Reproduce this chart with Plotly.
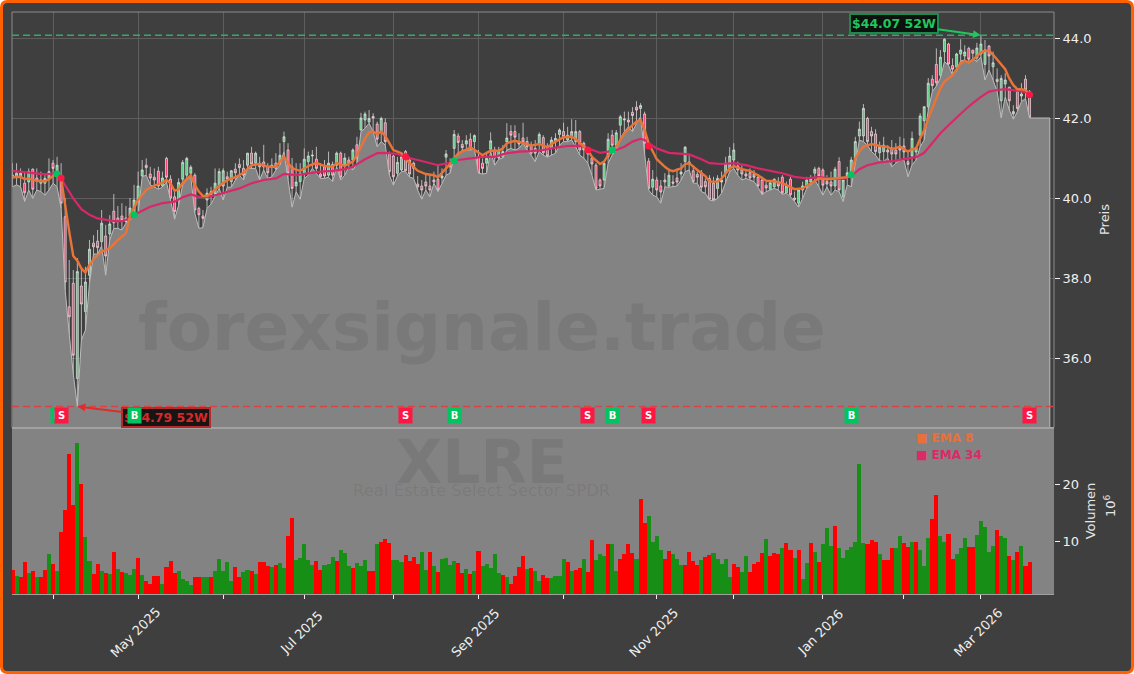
import pandas as pd
import plotly.graph_objects as go

W, H = 1134, 674
HOLIDAYS = ["2025-04-18","2025-05-26","2025-06-19","2025-07-04","2025-09-01","2025-11-27","2025-12-25","2026-01-01","2026-01-19","2026-02-16"]

opens = [
40.5,40.53,40.52,40.37,40.4,40.72,40.5,40.37,40.37,40.5,
40.87,40.62,40.57,39.53,37.28,37.87,35.49,37.8,37.16,38.07,
38.87,38.92,38.91,39.05,39.1,39.67,39.5,39.55,39.41,39.55,
39.6,39.9,40.55,40.82,40.6,40.52,40.67,40.3,40.99,40.47,
40.03,39.95,40.47,40.57,40.62,40.57,39.74,39.55,39.95,40.08,
40.1,40.3,40.3,40.53,40.41,40.72,40.84,40.74,40.82,41.12,
40.87,40.87,40.9,40.78,40.78,40.87,40.87,41.41,41.2,40.78,
40.3,40.41,40.6,40.91,41.05,40.97,40.6,40.78,40.57,40.84,
40.82,41.12,40.82,40.95,40.95,41.33,41.7,41.95,41.9,42.04,
41.85,41.66,41.88,41.1,41.05,40.62,40.7,41.16,40.95,40.87,
40.35,40.3,40.4,40.3,40.45,40.47,40.5,41.02,40.87,41.24,
41.55,41.34,41.35,41.47,41.41,41.03,40.87,40.87,41.22,41.2,
41.0,41.03,41.4,41.66,41.66,41.4,41.5,41.41,41.32,41.24,
41.37,41.51,41.28,41.24,41.41,41.59,41.66,41.45,41.53,41.41,
41.66,41.37,41.2,41.0,40.82,40.45,40.45,41.03,41.57,41.32,
41.82,41.95,41.95,42.14,42.27,42.24,42.1,40.92,40.27,40.45,
40.3,40.45,40.3,40.4,40.5,40.6,40.91,40.85,40.68,40.59,
40.63,40.41,40.49,40.37,40.24,40.4,40.63,40.74,40.95,40.8,
40.7,40.6,40.63,40.6,40.52,40.45,40.32,40.22,40.28,40.4,
40.52,40.13,40.47,40.0,39.87,40.2,40.28,40.4,40.62,40.74,
40.7,40.42,40.4,40.3,40.91,40.03,40.53,40.62,40.9,41.55,
41.55,41.99,41.66,41.6,41.13,41.16,41.2,41.25,41.2,41.3,
41.3,40.91,41.05,41.15,41.57,41.93,42.28,42.97,43.34,43.07,
43.66,43.85,43.31,43.27,43.6,43.55,43.74,43.7,43.5,43.6,
43.34,43.8,43.28,42.97,42.43,42.85,42.77,42.1,42.66,42.55,
42.97,42.66]

closes = [
40.57,40.62,40.62,40.13,40.66,40.22,40.42,40.45,40.49,40.66,
40.74,40.82,39.87,37.9,37.03,36.07,38.16,37.35,37.9,38.72,
38.78,38.76,39.37,38.55,39.35,39.38,39.41,39.45,39.5,39.75,
39.95,40.3,40.7,40.76,40.5,40.45,40.3,40.5,40.52,40.0,
39.66,40.39,40.89,40.99,40.77,39.7,39.58,39.49,40.12,40.16,
40.37,40.66,40.68,40.47,40.68,40.63,40.76,40.57,41.12,40.85,
41.12,40.78,40.78,40.63,40.82,40.74,41.07,41.53,40.62,40.24,
40.4,40.62,40.97,41.05,41.07,40.74,40.53,40.55,40.87,40.57,
41.12,40.52,41.0,40.87,41.2,41.0,42.0,42.1,41.99,42.0,
41.47,41.99,41.41,40.66,40.53,40.89,41.03,40.68,40.6,40.74,
40.28,40.2,40.3,40.2,40.4,40.2,40.55,41.1,40.78,41.59,
41.39,41.26,41.43,41.24,41.56,40.62,40.74,40.99,41.43,41.0,
41.2,41.16,41.5,41.57,41.52,41.35,41.4,41.28,41.12,41.12,
41.59,41.13,41.05,41.45,41.49,41.7,41.53,41.57,41.66,41.66,
41.2,41.2,41.1,40.85,40.24,40.3,40.87,41.47,41.32,41.63,
42.03,41.97,41.9,42.06,42.2,42.31,41.37,40.24,40.47,40.2,
40.15,40.4,40.57,40.37,40.4,40.65,41.27,40.9,40.41,40.52,
40.27,40.28,39.97,39.95,40.49,40.45,40.87,41.05,41.2,40.7,
40.6,40.55,40.5,40.52,40.3,40.12,40.25,40.38,40.47,40.3,
40.13,40.3,40.08,39.96,40.2,40.3,40.45,40.5,40.72,40.55,
40.32,40.35,40.3,40.72,40.2,40.45,40.63,40.95,41.41,41.72,
42.24,41.41,41.55,41.16,41.27,41.32,41.15,41.1,41.1,41.2,
41.15,40.84,41.49,41.25,42.05,42.28,42.87,42.81,42.88,43.52,
43.97,43.35,43.22,43.6,43.7,43.65,43.47,43.62,43.75,43.85,
43.7,43.55,43.38,42.91,42.99,42.95,42.43,42.16,42.24,42.6,
42.7,42.02]

highs = [
40.87,40.87,40.74,40.66,40.74,40.74,40.74,40.66,40.62,40.99,
40.95,41.03,40.87,40.0,38.45,38.2,38.5,38.24,38.28,38.95,
39.07,39.2,39.7,39.33,39.57,40.1,39.8,39.87,39.8,40.0,
40.33,40.66,40.95,40.99,40.78,40.74,40.78,40.66,41.03,40.57,
40.2,40.49,40.95,41.03,40.82,40.62,39.78,39.7,40.24,40.28,
40.74,40.74,40.74,40.66,40.7,40.87,40.99,40.95,41.13,41.28,
41.16,41.03,41.33,40.87,40.99,41.12,41.37,41.66,41.37,41.0,
40.87,40.87,41.24,41.16,41.2,41.28,40.87,40.95,41.16,40.91,
41.16,41.16,41.12,41.03,41.24,41.53,42.13,42.16,42.2,42.12,
41.91,42.03,41.99,41.16,41.07,41.03,41.12,41.2,41.03,40.91,
40.55,40.45,40.62,40.57,40.66,40.82,40.74,41.2,40.99,41.7,
41.62,41.45,41.57,41.62,41.59,41.2,40.99,41.12,41.64,41.28,
41.28,41.32,41.87,41.82,41.82,41.62,41.88,41.53,41.41,41.45,
41.64,41.57,41.37,41.53,41.62,41.74,41.88,41.78,41.97,41.95,
41.7,41.41,41.24,41.03,40.87,40.49,40.91,41.62,41.7,41.7,
42.08,42.16,42.16,42.27,42.42,42.37,42.16,41.0,40.7,40.53,
40.45,40.62,40.74,40.57,40.74,40.87,41.3,41.07,40.82,40.66,
40.7,40.49,40.57,40.53,40.57,40.66,41.03,41.27,41.37,40.91,
40.82,40.7,40.74,40.7,40.6,40.53,40.4,40.45,40.49,40.52,
40.57,40.41,40.53,40.16,40.24,40.41,40.53,40.57,40.78,40.78,
40.74,40.57,40.66,40.78,41.02,40.49,40.78,41.03,41.53,41.91,
42.35,42.03,41.78,41.72,41.41,41.53,41.32,41.45,41.37,41.53,
41.49,41.16,41.66,41.28,42.12,42.3,43.0,43.07,43.74,43.7,
43.99,43.88,43.49,43.63,43.97,43.82,43.78,43.7,43.88,44.07,
43.95,43.82,43.66,43.24,43.07,43.12,42.78,42.32,42.72,42.87,
43.07,42.7]

lows = [
40.28,40.33,40.28,39.91,40.2,39.99,40.2,40.16,40.07,40.2,
40.37,40.28,39.74,37.7,36.6,35.6,34.79,36.45,36.7,37.87,
38.6,38.6,38.8,38.07,38.95,39.24,39.24,39.2,39.37,39.45,
39.58,39.62,40.53,40.57,40.33,40.27,40.22,40.27,40.4,39.95,
39.47,39.82,40.33,40.45,40.53,39.62,39.24,39.26,39.74,39.85,
40.03,40.24,39.95,40.27,40.27,40.45,40.57,40.45,40.74,40.74,
40.74,40.45,40.7,40.49,40.53,40.7,40.82,41.16,40.45,39.77,
40.16,39.97,40.49,40.57,40.74,40.62,40.49,40.49,40.52,40.41,
40.78,40.45,40.57,40.78,40.7,40.85,41.66,41.74,41.87,41.66,
41.28,41.41,41.32,40.57,40.32,40.55,40.66,40.66,40.52,40.49,
40.2,39.97,40.2,40.03,40.37,40.16,40.37,40.57,40.62,41.03,
41.07,41.2,41.2,41.2,41.22,40.62,40.6,40.62,41.16,40.82,
40.97,41.0,41.2,41.24,41.2,41.24,41.37,41.2,41.07,40.91,
41.16,41.07,41.02,41.07,41.12,41.32,41.41,41.41,41.45,41.28,
41.07,41.0,40.87,40.57,40.2,40.22,40.24,40.87,41.07,41.2,
41.49,41.66,41.78,41.66,41.87,42.03,41.12,40.2,40.07,40.03,
39.87,40.28,40.27,40.28,40.3,40.45,40.66,40.7,40.37,40.37,
40.16,40.12,39.95,39.93,39.99,40.12,40.37,40.66,40.74,40.57,
40.45,40.49,40.45,40.41,40.27,40.08,40.16,40.2,40.24,40.2,
40.09,40.12,40.03,39.91,39.77,39.99,40.24,40.32,40.45,40.28,
40.07,40.28,40.07,40.2,40.16,39.91,40.33,40.28,40.87,41.45,
41.41,41.32,41.16,41.07,40.93,40.91,41.0,40.78,40.87,40.95,
40.95,40.53,40.83,40.95,41.28,41.45,42.2,42.66,42.8,43.0,
43.41,43.32,43.07,43.18,43.43,43.45,43.37,43.49,43.41,43.53,
42.95,43.2,42.95,42.66,42.0,42.53,42.2,41.97,42.16,42.41,
42.49,42.0]

volumes = [
4.9,3.9,3.6,6.3,4.4,4.7,3.7,3.6,4.9,7.7,
6.0,4.7,11.6,15.4,25.3,16.3,27.2,20.0,10.7,6.5,
4.2,6.0,4.7,4.4,4.2,8.1,5.1,4.6,4.4,4.0,
5.1,7.0,4.0,3.0,2.5,3.9,3.9,2.5,5.4,6.5,
4.4,4.7,3.3,3.0,2.3,3.7,3.6,3.7,3.7,3.6,
4.7,6.8,4.7,6.3,3.0,5.4,3.6,4.6,4.9,4.7,
4.2,6.3,6.3,5.6,5.4,5.8,6.1,5.2,10.9,14.0,
6.7,7.0,9.5,6.7,5.8,6.5,4.9,5.8,6.0,7.2,
6.5,8.4,7.9,5.6,5.2,6.1,5.6,6.7,4.7,4.7,
9.5,9.8,10.4,9.7,6.7,6.7,6.4,7.5,6.5,7.2,
6.0,8.1,4.9,8.1,5.6,4.6,6.8,7.0,5.8,6.5,
6.1,4.4,5.1,4.2,4.7,8.2,5.6,6.0,5.3,7.7,
4.4,4.0,3.7,2.5,3.9,5.4,7.4,5.1,5.3,4.7,
3.0,4.0,3.5,3.5,3.9,3.9,6.8,6.3,4.7,4.9,
5.3,6.8,4.6,10.2,6.7,7.7,7.4,9.5,9.5,4.7,
6.8,7.7,9.5,7.9,6.8,17.4,13.2,14.4,9.8,10.9,
8.4,6.8,8.2,7.7,6.8,5.8,5.8,8.1,6.5,5.8,
6.7,7.2,7.5,7.9,6.8,6.0,6.8,3.7,6.0,5.4,
4.6,7.4,4.6,6.0,6.3,7.9,10.4,7.4,7.9,7.7,
8.8,9.6,8.5,7.0,8.5,3.3,6.1,9.6,8.0,6.3,
9.4,12.3,9.2,12.6,8.8,7.1,8.5,8.9,9.9,23.5,
9.6,9.4,10.1,9.8,7.7,6.6,6.6,8.7,8.7,10.8,
9.6,8.9,9.8,9.9,8.4,5.7,10.6,13.8,18.0,10.8,
9.9,11.2,6.8,7.7,8.7,10.6,8.9,8.9,11.0,13.5,
12.4,8.0,9.2,11.9,10.8,10.6,7.3,6.6,8.0,9.1,
5.7,6.3]

volume_sides = list(
"RGRRGRGRRG" "RGRRRRGRGG" "RRGRGRGRGG" "GRGRRRRGRR" "RGGGGRRGGR"
"GGGGGRRGGR" "GRRRGRGGRR" "GGGGGRRGGG" "RGGGRGGGRR" "GRRRGGGRRR"
"RGGRGRGGGG" "RRGRGRGGGG" "GRGRRRRGRG" "GRRGGGGRGR" "RGRRGGGRGG"
"RRRRGRRGGG" "GRRGGGRRRR" "GRRGGGGGRR" "GGRRRRGRRR" "GRRGRGGRGR"
"GGGRGGGGGG" "GRRRGRRRGG" "RRGRGGGRRG" "GRRGGGRRGG" "GGGRGGRGRG" "RR"
)

ema8_x = [0,2,3,4,6,8,9,10,11,12,13,14,15,16,17,18,19,20,22,24,26,28,29,31,33,35,37,38,39,40,41,42,44,45,46,47,48,49,51,53,55,57,59,61,63,65,67,69,71,73,75,77,79,80,82,84,85,86,87,88,89,90,91,92,93,94,96,98,100,102,104,105,107,108,110,112,113,115,116,117,118,120,121,122,124,126,128,130,132,134,136,138,139,140,142,143,145,146,147,149,151,153,154,155,156,157,158,159,161,162,163,165,166,167,169,171,172,174,175,177,178,180,182,184,186,188,190,192,193,195,197,199,201,203,205,206,207,208,209,210,212,214,216,217,219,221,222,223,224,225,226,227,228,229,230,231,232,233,234,235,236,237,238,239,240,241,242,243,244,245,246,247,248,249,250,251]
ema8_y = [40.52,40.53,40.47,40.49,40.43,40.42,40.47,40.55,40.63,40.49,39.78,39.16,38.55,38.43,38.24,38.14,38.33,38.47,38.66,38.74,38.95,39.12,39.55,39.95,40.2,40.31,40.38,40.45,40.37,40.18,40.22,40.38,40.57,40.32,40.16,40.05,40.05,40.12,40.3,40.45,40.52,40.63,40.82,40.85,40.78,40.78,41.03,40.74,40.68,40.8,40.88,40.8,40.78,40.87,40.8,40.91,41.07,41.28,41.49,41.64,41.66,41.6,41.66,41.55,41.37,41.2,41.12,40.87,40.68,40.6,40.57,40.52,40.74,40.85,41.12,41.2,41.27,41.13,41.07,41.13,41.18,41.18,41.24,41.37,41.43,41.38,41.31,41.35,41.27,41.41,41.52,41.53,41.47,41.38,41.2,41.03,40.85,40.91,41.07,41.28,41.62,41.82,41.91,41.95,41.7,41.37,41.16,40.97,40.78,40.7,40.67,40.74,40.85,40.87,40.7,40.55,40.41,40.41,40.49,40.74,40.8,40.72,40.68,40.57,40.43,40.42,40.37,40.27,40.22,40.24,40.37,40.49,40.47,40.49,40.5,40.52,40.58,40.99,41.16,41.28,41.35,41.3,41.28,41.22,41.28,41.16,41.22,41.24,41.49,41.7,41.99,42.24,42.49,42.74,42.91,42.99,43.07,43.22,43.37,43.43,43.39,43.45,43.55,43.64,43.68,43.68,43.58,43.45,43.35,43.22,42.99,42.82,42.72,42.72,42.7,42.6]

ema34_x = [0,4,8,11,12,13,15,17,19,21,23,25,27,29,30,32,34,37,40,42,44,46,48,50,53,56,59,62,65,67,70,73,76,79,82,84,85,87,90,92,95,97,100,103,105,108,110,113,116,119,122,125,128,131,134,137,140,141,143,145,147,149,151,153,155,156,157,159,162,165,167,170,172,175,178,181,184,187,190,193,196,199,202,205,207,209,211,214,217,220,223,225,227,229,231,233,235,237,239,241,243,245,247,249,251]
ema34_y = [40.68,40.64,40.59,40.62,40.49,40.32,39.99,39.72,39.58,39.49,39.45,39.42,39.42,39.5,39.58,39.68,39.78,39.87,39.91,40.02,40.09,40.03,40.02,40.07,40.16,40.24,40.37,40.45,40.49,40.6,40.57,40.62,40.66,40.68,40.72,40.78,40.85,40.97,41.12,41.13,41.1,41.02,40.95,40.87,40.82,40.88,40.95,40.99,41.03,41.03,41.12,41.16,41.17,41.2,41.26,41.3,41.31,41.28,41.2,41.13,41.16,41.2,41.28,41.41,41.48,41.45,41.37,41.24,41.13,41.1,41.09,40.97,40.87,40.85,40.87,40.82,40.74,40.68,40.62,40.53,40.49,40.52,40.49,40.48,40.55,40.72,40.82,40.89,40.92,40.97,41.02,41.13,41.37,41.62,41.82,42.02,42.2,42.37,42.53,42.66,42.7,42.72,42.7,42.67,42.62]

flat_tail_x = [252,253,254,255,256,256]
flat_tail_y = [42.0,42.0,42.0,42.0,42.0,30.0]

signal_kinds = ["B","S","B","S","B","S","B","S","B","S"]
signal_idx = [11,12,30,97,109,142,148,157,207,251]
signal_price = [40.6,40.5,39.58,41.03,40.93,41.2,41.2,41.3,40.58,42.58]
SIGNAL_ROW = 34.57

HIGH_52W, LOW_52W = 44.07, 34.79
HIGH_IDX, LOW_IDX = 239, 16
price_ticks = [36,38,40,42,44]
volume_ticks = [10,20]
labelled_months = {"2025-05":"May 2025","2025-07":"Jul 2025","2025-09":"Sep 2025","2025-11":"Nov 2025","2026-01":"Jan 2026","2026-03":"Mar 2026"}

DARK, GRAY, ORANGE = "#3f3f3f", "#838383", "#ff6000"
GREEN, RED = "#00c45f", "#ff1744"
FONT = "DejaVu Sans"

n = len(closes)
assert all(len(a) == n for a in (opens, highs, lows, volumes, volume_sides))
assert len(ema8_x) == len(ema8_y) and len(ema34_x) == len(ema34_y)

dates = [d for d in pd.bdate_range("2025-03-18", "2026-03-18") if d.strftime("%Y-%m-%d") not in HOLIDAYS]
idx = list(range(n))
months = pd.Series(range(len(dates)), index=[d.strftime("%Y-%m") for d in dates])
first = months.groupby(level=0).first().iloc[1:]
month_ticks = [int(v) for v in first.values]

fig = go.Figure()
fig.add_trace(go.Scatter(x=idx + flat_tail_x, y=lows + flat_tail_y, mode="lines", fill="tozeroy", fillcolor=GRAY,
                         line=dict(color="#bdbdbd", width=1), xaxis="x2", yaxis="y", hoverinfo="skip", showlegend=False))
fig.add_trace(go.Candlestick(x=idx, open=opens, high=highs, low=lows, close=closes, xaxis="x2", yaxis="y", showlegend=False,
                             whiskerwidth=0,
                             increasing=dict(line=dict(color="rgba(228,228,228,0.85)", width=0.85), fillcolor="#55c87e"),
                             decreasing=dict(line=dict(color="rgba(232,228,228,0.85)", width=0.85), fillcolor="#f2406f")))
fig.add_trace(go.Scatter(x=ema34_x, y=ema34_y, mode="lines", name="EMA 34", line=dict(color="#d8286a", width=2.2), xaxis="x2", yaxis="y", showlegend=False))
fig.add_trace(go.Scatter(x=ema8_x, y=ema8_y, mode="lines", name="EMA 8", line=dict(color="#ea7438", width=2.4), xaxis="x2", yaxis="y", showlegend=False))
fig.add_trace(go.Scatter(x=signal_idx, y=signal_price, mode="markers", xaxis="x2", yaxis="y", showlegend=False,
                         marker=dict(size=7, color=[GREEN if k == "B" else RED for k in signal_kinds])))
fig.add_trace(go.Bar(x=idx, y=volumes, width=1.0, xaxis="x", yaxis="y2", showlegend=False,
                     marker=dict(color=["#ff0000" if s == "R" else "#178f17" for s in volume_sides], line=dict(width=0))))

def rounded(x0, y0, x1, y1, r):
    fx = lambda v: v / W
    fy = lambda v: 1 - v / H
    return (f"M {fx(x0+r)} {fy(y0)} L {fx(x1-r)} {fy(y0)} Q {fx(x1)} {fy(y0)} {fx(x1)} {fy(y0+r)} "
            f"L {fx(x1)} {fy(y1-r)} Q {fx(x1)} {fy(y1)} {fx(x1-r)} {fy(y1)} L {fx(x0+r)} {fy(y1)} "
            f"Q {fx(x0)} {fy(y1)} {fx(x0)} {fy(y1-r)} L {fx(x0)} {fy(y0+r)} Q {fx(x0)} {fy(y0)} {fx(x0+r)} {fy(y0)} Z")

def box(x0, y0, x1, y1, **kw):
    return dict(type="rect", xref="paper", yref="paper", x0=x0/W, x1=x1/W, y0=1-y1/H, y1=1-y0/H, **kw)

shapes = [
    dict(type="path", xref="paper", yref="paper", path=rounded(1.5, 1.5, W-1.5, H-1.5, 6), fillcolor=DARK,
         line=dict(color=ORANGE, width=3), layer="below"),
    box(12, 428, 1054, 594, fillcolor=GRAY, line=dict(width=0), layer="below"),
    box(12, 12, 1054, 427.5, fillcolor="rgba(0,0,0,0)", line=dict(color="#8c8c8c", width=1), layer="above"),
    dict(type="line", xref="paper", yref="paper", x0=12/W, x1=1054/W, y0=1-428/H, y1=1-428/H, line=dict(color="#a2a2a2", width=2)),
    dict(type="line", xref="x2", yref="y", x0=-0.12, x1=257, y0=HIGH_52W, y1=HIGH_52W, line=dict(color="#2fae62", width=1.5, dash="7px,4px")),
    dict(type="line", xref="x2", yref="y", x0=-0.12, x1=257, y0=LOW_52W, y1=LOW_52W, line=dict(color="#d84444", width=1.5, dash="7px,4px")),
]

WM = "rgba(0,0,0,0.075)"
ann = [
    dict(text="<b>forexsignale.trade</b>", x=482/W, y=1-328/H, font=dict(size=66, color=WM, family=FONT)),
    dict(text="<b>XLRE</b>", x=482/W, y=1-462/H, font=dict(size=60, color=WM, family=FONT)),
    dict(text="Real Estate Select Sector SPDR", x=481/W, y=1-490/H, font=dict(size=16.5, color=WM, family=FONT)),
    dict(text="<b>■ EMA 8</b>", x=914/W, y=1-438/H, xanchor="left", font=dict(size=12, color="#e8703a", family=FONT)),
    dict(text="<b>■ EMA 34</b>", x=914/W, y=1-455/H, xanchor="left", font=dict(size=12, color="#dc2a68", family=FONT)),
    dict(text="10<sup>6</sup>", x=1110/W, y=1-506/H, textangle=-90, font=dict(size=13, color="#e6e6e6", family=FONT)),
]
for a in ann:
    a.update(xref="paper", yref="paper", showarrow=False, yanchor="middle")
    a.setdefault("xanchor", "center")

month_labels = []
for key, tick in first.items():
    if key in labelled_months:
        month_labels.append(dict(text=labelled_months[key], x=int(tick), xref="x", y=1-632/H, yref="paper", showarrow=False, textangle=-45,
                                 xanchor="center", yanchor="middle", xshift=-3, font=dict(size=13, color="#efefef", family=FONT)))

extremes = [
    dict(text=f"<b>${HIGH_52W:.2f} 52W</b>", x=HIGH_IDX, y=HIGH_52W, xref="x2", yref="y", ax=891-978, ay=22-34,
         showarrow=True, arrowcolor="#22c55e", arrowwidth=2, arrowhead=2, arrowsize=0.8, bgcolor="#0c120e", bordercolor="#1c8a4c", borderwidth=2, borderpad=1,
         font=dict(size=12.5, color="#22c55e", family=FONT)),
    dict(text=f"<b>${LOW_52W:.2f} 52W</b>", x=LOW_IDX, y=LOW_52W, xref="x2", yref="y", ax=168-79, ay=416-405,
         showarrow=True, arrowcolor="#e02c2c", arrowwidth=2, arrowhead=2, arrowsize=0.8, bgcolor="#181414", bordercolor="#b82a2a", borderwidth=2, borderpad=1,
         font=dict(size=12.5, color="#d42a2a", family=FONT)),
]

signals = [dict(text=f"<b>{k}</b>", x=i, y=SIGNAL_ROW, xref="x2", yref="y", showarrow=False, width=13, height=15, borderpad=0,
                bgcolor=GREEN if k == "B" else RED, font=dict(size=10, color="white", family=FONT))
           for k, i in zip(signal_kinds, signal_idx)]

x_range = [(12 - 12.5) / 4.052, (1054 - 12.5) / 4.052]
x_dom = [12 / W, 1054 / W]
fig.update_layout(
    width=W, height=H, margin=dict(l=0, r=0, t=0, b=0), autosize=False,
    paper_bgcolor="white", plot_bgcolor="rgba(0,0,0,0)", font=dict(family=FONT, color="#efefef", size=12),
    showlegend=False, bargap=0, shapes=shapes, annotations=ann + month_labels + extremes + signals,
    xaxis=dict(domain=x_dom, range=x_range, anchor="y2", tickvals=month_ticks, showticklabels=False, ticks="outside", ticklen=4, tickcolor="#efefef",
               tickwidth=1, showgrid=False, zeroline=False, showline=True, linecolor="#a0a0a0"),
    xaxis2=dict(domain=x_dom, range=x_range, anchor="y", tickvals=month_ticks, showticklabels=False, ticks="", showgrid=True, gridcolor="#5e5e5e", gridwidth=1,
                zeroline=False, rangeslider=dict(visible=False), matches="x"),
    yaxis=dict(domain=[1-427/H, 1-12/H], range=[38-149/40, 44+26/40], anchor="x2", side="right", tickvals=price_ticks, ticktext=[f"{t:.1f}" for t in price_ticks],
               ticks="outside", ticklen=5, tickcolor="#efefef", showgrid=True, gridcolor="#5e5e5e", gridwidth=1, zeroline=False,
               tickfont=dict(size=13, color="#efefef"), title=dict(text="Preis", standoff=9, font=dict(size=13, color="#e6e6e6"))),
    yaxis2=dict(domain=[1-594/H, 1-428/H], range=[10-53/5.7, 10+113/5.7], anchor="x", side="right", tickvals=volume_ticks,
                ticks="outside", ticklen=5, tickcolor="#efefef", showgrid=False, zeroline=False,
                tickfont=dict(size=13, color="#efefef"), title=dict(text="Volumen", standoff=7, font=dict(size=13, color="#e6e6e6"))),
)
fig.write_html("out.html", config={"displayModeBar": False}, post_script="document.body.style.margin='0';document.body.style.overflow='hidden';")
